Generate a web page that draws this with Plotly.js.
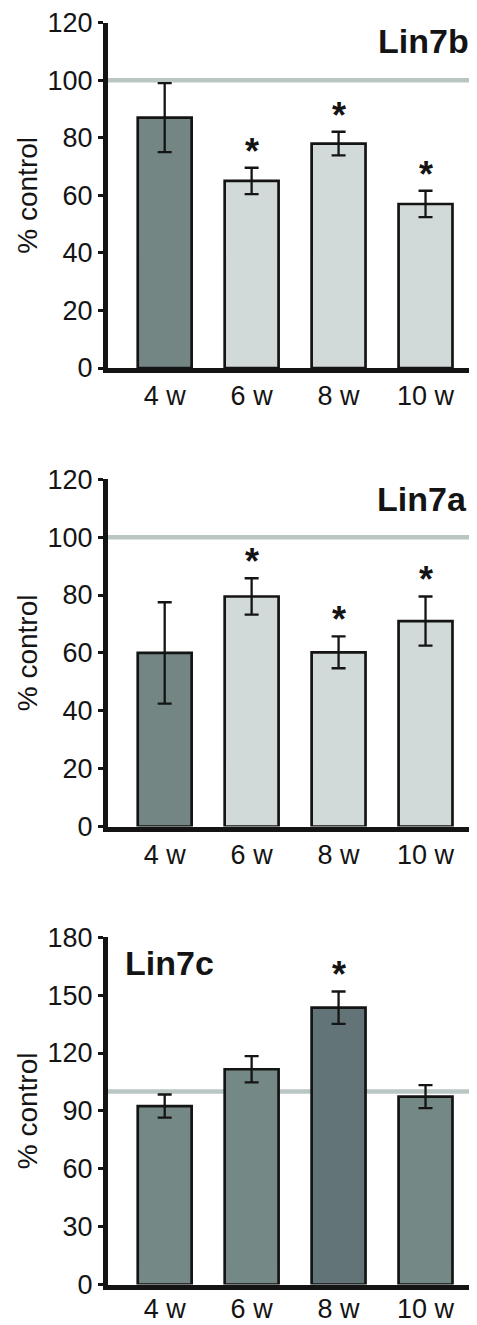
<!DOCTYPE html>
<html>
<head>
<meta charset="utf-8">
<script src="https://cdn.plot.ly/plotly-3.0.1.min.js"></script>
<style>html,body{margin:0;padding:0;background:#fff;}#chart{width:477px;height:1325px;}</style>
</head>
<body>
<div id="chart"></div>
<script>
// ---- data ----
const categories = ['4 w', '6 w', '8 w', '10 w'];
const lin7b = [87, 65, 78, 57];
const lin7bErr = [12, 4.6, 4.1, 4.6];
const lin7bSig = [false, true, true, true];
const lin7a = [60, 79.5, 60.2, 71];
const lin7aErr = [17.5, 6.3, 5.5, 8.5];
const lin7aSig = [false, true, true, true];
const lin7c = [92.5, 111.6, 143.5, 97.4];
const lin7cErr = [6, 6.8, 8.4, 6];
const lin7cSig = [false, false, true, false];
const controlLevel = 100;
const panelNames = ['Lin7b', 'Lin7a', 'Lin7c'];

// ---- styling ----
const W = 477, H = 1325;
const L = 108.3, R = 7.5;
const FONT = 'Liberation Sans, Arial, Helvetica, sans-serif';
const INK = '#141414';
const darkFill = '#738684', lightFill = '#d1d9d9', cFill = '#748886', cDark = '#637479';
const fills = [
  [darkFill, lightFill, lightFill, lightFill],
  [darkFill, lightFill, lightFill, lightFill],
  [cFill, cFill, cDark, cFill]
];
const pxTopBottom = [[22.7, 368], [479.3, 826.5], [937.3, 1284.5]];
const yRanges = [[0, 120], [0, 120], [0, 180]];
const yDtick = [20, 20, 30];
const labelStandoff = [0, 0, -4];
const values = [lin7b, lin7a, lin7c];
const errs = [lin7bErr, lin7aErr, lin7cErr];
const sigs = [lin7bSig, lin7aSig, lin7cSig];

const data = [];
const layout = {
  width: W, height: H,
  margin: {l: L, r: R, t: 0, b: 0},
  paper_bgcolor: '#fff', plot_bgcolor: 'rgba(0,0,0,0)',
  showlegend: false,
  font: {family: FONT, color: INK},
  annotations: [], shapes: []
};

for (let i = 0; i < 3; i++) {
  const s = i === 0 ? '' : String(i + 1);
  data.push({
    type: 'bar', x: categories, y: values[i],
    xaxis: 'x' + s, yaxis: 'y' + s,
    width: 0.62,
    marker: {color: fills[i], line: {color: INK, width: 2.7}},
    error_y: {type: 'data', array: errs[i], visible: true, color: INK, thickness: 2.3, width: 7},
    hoverinfo: 'skip'
  });
  const [pt, pb] = pxTopBottom[i];
  layout['xaxis' + s] = {
    type: 'category', anchor: 'y' + s, domain: [0, 1],
    range: [-0.652, 3.5],
    showline: true, linewidth: 5, linecolor: INK,
    showgrid: false, zeroline: false, ticks: '',
    ticklabelstandoff: labelStandoff[i],
    tickfont: {size: 27, family: FONT, color: INK},
    fixedrange: true
  };
  layout['yaxis' + s] = {
    anchor: 'x' + s,
    domain: [1 - pb / H, 1 - pt / H],
    range: yRanges[i], dtick: yDtick[i], tick0: 0,
    showline: true, linewidth: 5, linecolor: INK,
    ticks: 'outside', ticklen: 5, tickwidth: 3, tickcolor: INK,
    showgrid: false, zeroline: false,
    tickfont: {size: 27, family: FONT, color: INK},
    title: {text: '% control', font: {size: 28, family: FONT, color: INK}, standoff: 3},
    fixedrange: true
  };
  layout.shapes.push({
    type: 'line', xref: 'x' + s + ' domain', yref: 'y' + s,
    x0: 0, x1: 1, y0: controlLevel, y1: controlLevel,
    line: {color: '#bac6c4', width: 4.5}, layer: 'below'
  });
  for (let k = 0; k < categories.length; k++) {
    if (sigs[i][k]) {
      layout.annotations.push({
        xref: 'x' + s, yref: 'y' + s, x: categories[k], y: values[i][k] + errs[i][k],
        text: '<b>*</b>', showarrow: false, yanchor: 'bottom', yshift: -6,
        font: {size: 36, family: FONT, color: INK}
      });
    }
  }
}
// panel labels
layout.annotations.push(
  {xref: 'paper', yref: 'paper', x: (472 - L) / (W - L - R), y: 1 - 41 / H, xanchor: 'right', yanchor: 'middle',
   text: '<b>' + panelNames[0] + '</b>', showarrow: false, font: {size: 34, family: FONT, color: INK}},
  {xref: 'paper', yref: 'paper', x: (470 - L) / (W - L - R), y: 1 - 499 / H, xanchor: 'right', yanchor: 'middle',
   text: '<b>' + panelNames[1] + '</b>', showarrow: false, font: {size: 34, family: FONT, color: INK}},
  {xref: 'paper', yref: 'paper', x: (123 - L) / (W - L - R), y: 1 - 963 / H, xanchor: 'left', yanchor: 'middle',
   text: '<b>' + panelNames[2] + '</b>', showarrow: false, font: {size: 34, family: FONT, color: INK}}
);

Plotly.newPlot('chart', data, layout, {displayModeBar: false, staticPlot: true});
</script>
</body>
</html>
